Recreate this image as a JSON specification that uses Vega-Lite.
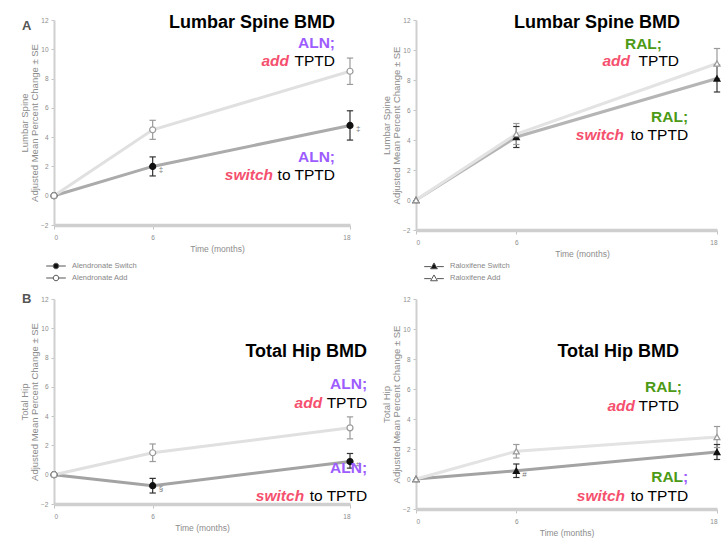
{
  "$schema": "https://vega.github.io/schema/vega-lite/v6.json",
  "autosize": {"type": "none"},
  "padding": {"left": 54, "top": 20, "right": 672, "bottom": 529},
  "background": "white",
  "config": {
    "font": "Liberation Sans",
    "view": {"stroke": null},
    "axis": {"grid": false, "domainColor": "#cfcfcf", "tickColor": "#c4c4c4", "labelColor": "#8c8c8c", "titleColor": "#8c8c8c", "labelFontSize": 6.5, "titleFontSize": 9.5, "titleFontWeight": "normal", "labelFont": "Liberation Sans", "titleFont": "Liberation Sans"},
    "axisX": {"domainWidth": 3.5, "tickSize": 4, "labelPadding": 5, "titlePadding": 4, "labelAngle": 0, "titleFontSize": 8.5},
    "axisY": {"domainWidth": 2, "tickSize": 3, "labelPadding": 3, "titlePadding": 1, "titleLineHeight": 10},
    "title": {"fontSize": 13, "fontWeight": "bold", "color": "#555555", "anchor": "start", "frame": "group"}
  },
  "resolve": {"scale": {"fill": "independent"}, "legend": {"fill": "independent"}},
  "datasets": {
    "alnLS": [
      {"group": "Alendronate Switch", "m": 0, "v": 0, "lo": 0, "hi": 0},
      {"group": "Alendronate Switch", "m": 6, "v": 2.0, "lo": 1.35, "hi": 2.65, "sig": "‡"},
      {"group": "Alendronate Switch", "m": 18, "v": 4.8, "lo": 3.8, "hi": 5.8, "sig": "‡"},
      {"group": "Alendronate Add", "m": 0, "v": 0, "lo": 0, "hi": 0},
      {"group": "Alendronate Add", "m": 6, "v": 4.5, "lo": 3.85, "hi": 5.15},
      {"group": "Alendronate Add", "m": 18, "v": 8.5, "lo": 7.6, "hi": 9.4}
    ],
    "ralLS": [
      {"group": "Raloxifene Switch", "m": 0, "v": 0, "lo": 0, "hi": 0},
      {"group": "Raloxifene Switch", "m": 6, "v": 4.2, "lo": 3.5, "hi": 4.9},
      {"group": "Raloxifene Switch", "m": 18, "v": 8.1, "lo": 7.2, "hi": 9.0},
      {"group": "Raloxifene Add", "m": 0, "v": 0, "lo": 0, "hi": 0},
      {"group": "Raloxifene Add", "m": 6, "v": 4.4, "lo": 3.7, "hi": 5.1},
      {"group": "Raloxifene Add", "m": 18, "v": 9.1, "lo": 8.1, "hi": 10.1}
    ],
    "alnTH": [
      {"group": "Alendronate Switch", "m": 0, "v": 0, "lo": 0, "hi": 0},
      {"group": "Alendronate Switch", "m": 6, "v": -0.75, "lo": -1.25, "hi": -0.25, "sig": "§"},
      {"group": "Alendronate Switch", "m": 18, "v": 0.9, "lo": 0.45, "hi": 1.45, "sig": "#"},
      {"group": "Alendronate Add", "m": 0, "v": 0, "lo": 0, "hi": 0},
      {"group": "Alendronate Add", "m": 6, "v": 1.5, "lo": 0.9, "hi": 2.1},
      {"group": "Alendronate Add", "m": 18, "v": 3.2, "lo": 2.45, "hi": 3.95}
    ],
    "ralTH": [
      {"group": "Raloxifene Switch", "m": 0, "v": 0, "lo": 0, "hi": 0},
      {"group": "Raloxifene Switch", "m": 6, "v": 0.55, "lo": 0.1, "hi": 1.0, "sig": "#"},
      {"group": "Raloxifene Switch", "m": 18, "v": 1.8, "lo": 1.3, "hi": 2.3},
      {"group": "Raloxifene Add", "m": 0, "v": 0, "lo": 0, "hi": 0},
      {"group": "Raloxifene Add", "m": 6, "v": 1.85, "lo": 1.4, "hi": 2.3},
      {"group": "Raloxifene Add", "m": 18, "v": 2.8, "lo": 2.1, "hi": 3.5}
    ],
    "txtA1": [
      {"part": "title", "m": 17.09, "v": 11.45, "txt": "Lumbar Spine BMD"},
      {"part": "drug", "m": 17.09, "v": 10.09, "txt": "ALN;"},
      {"part": "addv", "m": 17.09, "v": 8.86, "txt": "add"},
      {"part": "plain", "m": 17.09, "v": 8.86, "txt": "TPTD"},
      {"part": "drug", "m": 17.09, "v": 2.3, "txt": "ALN;"},
      {"part": "swv", "m": 17.09, "v": 1.07, "txt": "switch"},
      {"part": "plain", "m": 17.09, "v": 1.07, "txt": "to TPTD"}
    ],
    "txtA2": [
      {"part": "title", "m": 15.79, "v": 11.47, "txt": "Lumbar Spine BMD"},
      {"part": "drug", "m": 14.71, "v": 10.07, "txt": "RAL;"},
      {"part": "addv", "m": 15.73, "v": 8.93, "txt": "add"},
      {"part": "plain", "m": 15.73, "v": 8.93, "txt": "TPTD"},
      {"part": "drug", "m": 16.27, "v": 5.2, "txt": "RAL;"},
      {"part": "swv", "m": 16.27, "v": 4.0, "txt": "switch"},
      {"part": "plain", "m": 16.27, "v": 4.0, "txt": "to TPTD"}
    ],
    "txtB1": [
      {"part": "title", "m": 19.04, "v": 8.04, "txt": "Total Hip BMD"},
      {"part": "drug", "m": 19.04, "v": 5.85, "txt": "ALN;"},
      {"part": "addv", "m": 19.04, "v": 4.55, "txt": "add"},
      {"part": "plain", "m": 19.04, "v": 4.55, "txt": "TPTD"},
      {"part": "drug", "m": 19.04, "v": 0.11, "txt": "ALN;"},
      {"part": "swv", "m": 19.04, "v": -1.8, "txt": "switch"},
      {"part": "plain", "m": 19.04, "v": -1.8, "txt": "to TPTD"}
    ],
    "txtB2": [
      {"part": "title", "m": 15.73, "v": 8.13, "txt": "Total Hip BMD"},
      {"part": "drug", "m": 15.91, "v": 5.8, "txt": "RAL;"},
      {"part": "addv", "m": 15.73, "v": 4.53, "txt": "add"},
      {"part": "plain", "m": 15.73, "v": 4.53, "txt": "TPTD"},
      {"part": "drugG", "m": 16.27, "v": -0.2, "txt": "RAL"},
      {"part": "semi", "m": 16.27, "v": -0.2, "txt": ";"},
      {"part": "swv", "m": 16.27, "v": -1.47, "txt": "switch"},
      {"part": "plain", "m": 16.27, "v": -1.47, "txt": "to TPTD"}
    ]
  },
  "columns": 2,
  "bounds": "flush",
  "spacing": {"row": 69, "column": 66},
  "concat": [
    {
      "width": 296, "height": 205,
      "title": {"text": "A", "dx": -32, "dy": 20, "offset": -9, "baseline": "alphabetic"},
      "data": {"name": "alnLS"},
      "encoding": {
        "x": {"field": "m", "type": "quantitative", "scale": {"domain": [0, 18], "nice": false, "zero": false}, "axis": {"values": [0, 6, 18], "title": "Time (months)", "titleX": 163}},
        "y": {"field": "v", "type": "quantitative", "scale": {"domain": [-2, 12], "nice": false, "zero": false}, "axis": {"values": [-2, 0, 2, 4, 6, 8, 10, 12], "title": ["Lumbar Spine", "Adjusted Mean Percent Change ± SE"]}}
      },
      "layer": [
        {"mark": {"type": "line", "strokeWidth": 3}, "encoding": {"detail": {"field": "group"}, "color": {"condition": {"test": "datum.group == 'Alendronate Switch'", "value": "#ababab"}, "value": "#e0e0e0"}}},
        {"transform": [{"filter": "datum.m > 0"}], "mark": {"type": "rule", "strokeWidth": 1.2}, "encoding": {"y": {"field": "lo", "type": "quantitative"}, "y2": {"field": "hi"}, "color": {"condition": {"test": "datum.group == 'Alendronate Switch'", "value": "#333333"}, "value": "#9a9a9a"}}},
        {"transform": [{"filter": "datum.m > 0"}], "mark": {"type": "point", "shape": "stroke", "size": 40, "strokeWidth": 1.2, "opacity": 1}, "encoding": {"y": {"field": "lo", "type": "quantitative"}, "color": {"condition": {"test": "datum.group == 'Alendronate Switch'", "value": "#333333"}, "value": "#9a9a9a"}}},
        {"transform": [{"filter": "datum.m > 0"}], "mark": {"type": "point", "shape": "stroke", "size": 40, "strokeWidth": 1.2, "opacity": 1}, "encoding": {"y": {"field": "hi", "type": "quantitative"}, "color": {"condition": {"test": "datum.group == 'Alendronate Switch'", "value": "#333333"}, "value": "#9a9a9a"}}},
        {"mark": {"type": "point", "shape": "circle", "filled": true, "size": 36, "strokeWidth": 1.2, "opacity": 1}, "encoding": {
          "fill": {"field": "group", "type": "nominal", "scale": {"domain": ["Alendronate Switch", "Alendronate Add"], "range": ["#111111", "#ffffff"]}, "legend": {"title": null, "orient": "none", "legendX": -5, "legendY": 239, "direction": "vertical", "padding": 0, "rowPadding": 0, "symbolSize": 150, "symbolType": "M-1.6,0H-0.45M0.45,0H1.6M0.45,0A0.45,0.45,0,1,1,-0.45,0A0.45,0.45,0,1,1,0.45,0Z", "symbolStrokeColor": "#555555", "symbolStrokeWidth": 1, "labelFontSize": 7.5, "labelColor": "#888888", "labelOffset": 9}},
          "stroke": {"condition": {"test": "datum.group == 'Alendronate Switch'", "value": "#111111"}, "value": "#9a9a9a"}}},
        {"transform": [{"filter": "isValid(datum.sig)"}], "mark": {"type": "text", "align": "left", "baseline": "middle", "dx": 6, "dy": 4, "fontSize": 8, "color": "#777777"}, "encoding": {"text": {"field": "sig"}}},
        {"data": {"name": "txtA1"}, "transform": [{"filter": "datum.part == 'title'"}], "mark": {"type": "text", "align": "right", "baseline": "alphabetic", "fontSize": 18, "fontWeight": "bold", "color": "#000000"}, "encoding": {"text": {"field": "txt"}}},
        {"data": {"name": "txtA1"}, "transform": [{"filter": "datum.part == 'drug'"}], "mark": {"type": "text", "align": "right", "baseline": "alphabetic", "fontSize": 15.5, "fontWeight": "bold", "color": "#9d5cff"}, "encoding": {"text": {"field": "txt"}}},
        {"data": {"name": "txtA1"}, "transform": [{"filter": "datum.part == 'addv'"}], "mark": {"type": "text", "align": "right", "baseline": "alphabetic", "fontSize": 15.5, "fontWeight": "bold", "fontStyle": "italic", "color": "#f5506e", "dx": -46}, "encoding": {"text": {"field": "txt"}}},
        {"data": {"name": "txtA1"}, "transform": [{"filter": "datum.part == 'swv'"}], "mark": {"type": "text", "align": "right", "baseline": "alphabetic", "fontSize": 15.5, "fontWeight": "bold", "fontStyle": "italic", "color": "#f5506e", "dx": -62}, "encoding": {"text": {"field": "txt"}}},
        {"data": {"name": "txtA1"}, "transform": [{"filter": "datum.part == 'plain'"}], "mark": {"type": "text", "align": "right", "baseline": "alphabetic", "fontSize": 15.5, "color": "#000000"}, "encoding": {"text": {"field": "txt"}}}
      ]
    },
    {
      "width": 301, "height": 210,
      "data": {"name": "ralLS"},
      "encoding": {
        "x": {"field": "m", "type": "quantitative", "scale": {"domain": [0, 18], "nice": false, "zero": false}, "axis": {"values": [0, 6, 18], "title": "Time (months)", "titleX": 166}},
        "y": {"field": "v", "type": "quantitative", "scale": {"domain": [-2, 12], "nice": false, "zero": false}, "axis": {"values": [-2, 0, 2, 4, 6, 8, 10, 12], "title": ["Lumbar Spine", "Adjusted Mean Percent Change ± SE"]}}
      },
      "layer": [
        {"mark": {"type": "line", "strokeWidth": 3}, "encoding": {"detail": {"field": "group"}, "color": {"condition": {"test": "datum.group == 'Raloxifene Switch'", "value": "#b5b5b5"}, "value": "#e3e3e3"}}},
        {"transform": [{"filter": "datum.m > 0"}], "mark": {"type": "rule", "strokeWidth": 1.2}, "encoding": {"y": {"field": "lo", "type": "quantitative"}, "y2": {"field": "hi"}, "color": {"condition": {"test": "datum.group == 'Raloxifene Switch'", "value": "#333333"}, "value": "#9a9a9a"}}},
        {"transform": [{"filter": "datum.m > 0"}], "mark": {"type": "point", "shape": "stroke", "size": 40, "strokeWidth": 1.2, "opacity": 1}, "encoding": {"y": {"field": "lo", "type": "quantitative"}, "color": {"condition": {"test": "datum.group == 'Raloxifene Switch'", "value": "#333333"}, "value": "#9a9a9a"}}},
        {"transform": [{"filter": "datum.m > 0"}], "mark": {"type": "point", "shape": "stroke", "size": 40, "strokeWidth": 1.2, "opacity": 1}, "encoding": {"y": {"field": "hi", "type": "quantitative"}, "color": {"condition": {"test": "datum.group == 'Raloxifene Switch'", "value": "#333333"}, "value": "#9a9a9a"}}},
        {"mark": {"type": "point", "shape": "triangle-up", "filled": true, "size": 36, "strokeWidth": 1.2, "opacity": 1}, "encoding": {
          "fill": {"field": "group", "type": "nominal", "scale": {"domain": ["Raloxifene Switch", "Raloxifene Add"], "range": ["#111111", "#ffffff"]}, "legend": {"title": null, "orient": "none", "legendX": 11, "legendY": 239, "direction": "vertical", "padding": 0, "rowPadding": 0, "symbolSize": 150, "symbolType": "M-1.6,0.1H-0.5M0.5,0.1H1.6M0,-0.5L0.55,0.45L-0.55,0.45Z", "symbolStrokeColor": "#555555", "symbolStrokeWidth": 1, "labelFontSize": 7.5, "labelColor": "#888888", "labelOffset": 9}},
          "stroke": {"condition": {"test": "datum.group == 'Raloxifene Switch'", "value": "#111111"}, "value": "#9a9a9a"}}},
        {"data": {"name": "txtA2"}, "transform": [{"filter": "datum.part == 'title'"}], "mark": {"type": "text", "align": "right", "baseline": "alphabetic", "fontSize": 18, "fontWeight": "bold", "color": "#000000"}, "encoding": {"text": {"field": "txt"}}},
        {"data": {"name": "txtA2"}, "transform": [{"filter": "datum.part == 'drug'"}], "mark": {"type": "text", "align": "right", "baseline": "alphabetic", "fontSize": 15.5, "fontWeight": "bold", "color": "#4c9a16"}, "encoding": {"text": {"field": "txt"}}},
        {"data": {"name": "txtA2"}, "transform": [{"filter": "datum.part == 'addv'"}], "mark": {"type": "text", "align": "right", "baseline": "alphabetic", "fontSize": 15.5, "fontWeight": "bold", "fontStyle": "italic", "color": "#f5506e", "dx": -49}, "encoding": {"text": {"field": "txt"}}},
        {"data": {"name": "txtA2"}, "transform": [{"filter": "datum.part == 'swv'"}], "mark": {"type": "text", "align": "right", "baseline": "alphabetic", "fontSize": 15.5, "fontWeight": "bold", "fontStyle": "italic", "color": "#f5506e", "dx": -64}, "encoding": {"text": {"field": "txt"}}},
        {"data": {"name": "txtA2"}, "transform": [{"filter": "datum.part == 'plain'"}], "mark": {"type": "text", "align": "right", "baseline": "alphabetic", "fontSize": 15.5, "color": "#000000"}, "encoding": {"text": {"field": "txt"}}}
      ]
    },
    {
      "width": 296, "height": 205,
      "title": {"text": "B", "dx": -32, "dy": 12, "offset": -8, "baseline": "alphabetic"},
      "data": {"name": "alnTH"},
      "encoding": {
        "x": {"field": "m", "type": "quantitative", "scale": {"domain": [0, 18], "nice": false, "zero": false}, "axis": {"values": [0, 6, 18], "title": "Time (months)"}},
        "y": {"field": "v", "type": "quantitative", "scale": {"domain": [-2, 12], "nice": false, "zero": false}, "axis": {"values": [-2, 0, 2, 4, 6, 8, 10, 12], "title": ["Total Hip", "Adjusted Mean Percent Change ± SE"]}}
      },
      "layer": [
        {"mark": {"type": "line", "strokeWidth": 3}, "encoding": {"detail": {"field": "group"}, "color": {"condition": {"test": "datum.group == 'Alendronate Switch'", "value": "#a3a3a3"}, "value": "#e0e0e0"}}},
        {"transform": [{"filter": "datum.m > 0"}], "mark": {"type": "rule", "strokeWidth": 1.2}, "encoding": {"y": {"field": "lo", "type": "quantitative"}, "y2": {"field": "hi"}, "color": {"condition": {"test": "datum.group == 'Alendronate Switch'", "value": "#333333"}, "value": "#9a9a9a"}}},
        {"transform": [{"filter": "datum.m > 0"}], "mark": {"type": "point", "shape": "stroke", "size": 40, "strokeWidth": 1.2, "opacity": 1}, "encoding": {"y": {"field": "lo", "type": "quantitative"}, "color": {"condition": {"test": "datum.group == 'Alendronate Switch'", "value": "#333333"}, "value": "#9a9a9a"}}},
        {"transform": [{"filter": "datum.m > 0"}], "mark": {"type": "point", "shape": "stroke", "size": 40, "strokeWidth": 1.2, "opacity": 1}, "encoding": {"y": {"field": "hi", "type": "quantitative"}, "color": {"condition": {"test": "datum.group == 'Alendronate Switch'", "value": "#333333"}, "value": "#9a9a9a"}}},
        {"mark": {"type": "point", "shape": "circle", "filled": true, "size": 36, "strokeWidth": 1.2, "opacity": 1}, "encoding": {
          "fill": {"condition": {"test": "datum.group == 'Alendronate Switch'", "value": "#111111"}, "value": "#ffffff"},
          "stroke": {"condition": {"test": "datum.group == 'Alendronate Switch'", "value": "#111111"}, "value": "#9a9a9a"}}},
        {"transform": [{"filter": "isValid(datum.sig)"}], "mark": {"type": "text", "align": "left", "baseline": "middle", "dx": 6, "dy": 3, "fontSize": 8, "color": "#777777"}, "encoding": {"text": {"field": "sig"}}},
        {"data": {"name": "txtB1"}, "transform": [{"filter": "datum.part == 'title'"}], "mark": {"type": "text", "align": "right", "baseline": "alphabetic", "fontSize": 18, "fontWeight": "bold", "color": "#000000"}, "encoding": {"text": {"field": "txt"}}},
        {"data": {"name": "txtB1"}, "transform": [{"filter": "datum.part == 'drug'"}], "mark": {"type": "text", "align": "right", "baseline": "alphabetic", "fontSize": 15.5, "fontWeight": "bold", "color": "#9d5cff"}, "encoding": {"text": {"field": "txt"}}},
        {"data": {"name": "txtB1"}, "transform": [{"filter": "datum.part == 'addv'"}], "mark": {"type": "text", "align": "right", "baseline": "alphabetic", "fontSize": 15.5, "fontWeight": "bold", "fontStyle": "italic", "color": "#f5506e", "dx": -45}, "encoding": {"text": {"field": "txt"}}},
        {"data": {"name": "txtB1"}, "transform": [{"filter": "datum.part == 'swv'"}], "mark": {"type": "text", "align": "right", "baseline": "alphabetic", "fontSize": 15.5, "fontWeight": "bold", "fontStyle": "italic", "color": "#f5506e", "dx": -63}, "encoding": {"text": {"field": "txt"}}},
        {"data": {"name": "txtB1"}, "transform": [{"filter": "datum.part == 'plain'"}], "mark": {"type": "text", "align": "right", "baseline": "alphabetic", "fontSize": 15.5, "color": "#000000"}, "encoding": {"text": {"field": "txt"}}}
      ]
    },
    {
      "width": 301, "height": 210,
      "data": {"name": "ralTH"},
      "encoding": {
        "x": {"field": "m", "type": "quantitative", "scale": {"domain": [0, 18], "nice": false, "zero": false}, "axis": {"values": [0, 6, 18], "title": "Time (months)"}},
        "y": {"field": "v", "type": "quantitative", "scale": {"domain": [-2, 12], "nice": false, "zero": false}, "axis": {"values": [-2, 0, 2, 4, 6, 8, 10, 12], "title": ["Total Hip", "Adjusted Mean Percent Change ± SE"]}}
      },
      "layer": [
        {"mark": {"type": "line", "strokeWidth": 3}, "encoding": {"detail": {"field": "group"}, "color": {"condition": {"test": "datum.group == 'Raloxifene Switch'", "value": "#a3a3a3"}, "value": "#e3e3e3"}}},
        {"transform": [{"filter": "datum.m > 0"}], "mark": {"type": "rule", "strokeWidth": 1.2}, "encoding": {"y": {"field": "lo", "type": "quantitative"}, "y2": {"field": "hi"}, "color": {"condition": {"test": "datum.group == 'Raloxifene Switch'", "value": "#333333"}, "value": "#9a9a9a"}}},
        {"transform": [{"filter": "datum.m > 0"}], "mark": {"type": "point", "shape": "stroke", "size": 40, "strokeWidth": 1.2, "opacity": 1}, "encoding": {"y": {"field": "lo", "type": "quantitative"}, "color": {"condition": {"test": "datum.group == 'Raloxifene Switch'", "value": "#333333"}, "value": "#9a9a9a"}}},
        {"transform": [{"filter": "datum.m > 0"}], "mark": {"type": "point", "shape": "stroke", "size": 40, "strokeWidth": 1.2, "opacity": 1}, "encoding": {"y": {"field": "hi", "type": "quantitative"}, "color": {"condition": {"test": "datum.group == 'Raloxifene Switch'", "value": "#333333"}, "value": "#9a9a9a"}}},
        {"mark": {"type": "point", "shape": "triangle-up", "filled": true, "size": 36, "strokeWidth": 1.2, "opacity": 1}, "encoding": {
          "fill": {"condition": {"test": "datum.group == 'Raloxifene Switch'", "value": "#111111"}, "value": "#ffffff"},
          "stroke": {"condition": {"test": "datum.group == 'Raloxifene Switch'", "value": "#111111"}, "value": "#9a9a9a"}}},
        {"transform": [{"filter": "isValid(datum.sig)"}], "mark": {"type": "text", "align": "left", "baseline": "middle", "dx": 6, "dy": 4, "fontSize": 8, "color": "#777777"}, "encoding": {"text": {"field": "sig"}}},
        {"data": {"name": "txtB2"}, "transform": [{"filter": "datum.part == 'title'"}], "mark": {"type": "text", "align": "right", "baseline": "alphabetic", "fontSize": 18, "fontWeight": "bold", "color": "#000000"}, "encoding": {"text": {"field": "txt"}}},
        {"data": {"name": "txtB2"}, "transform": [{"filter": "datum.part == 'drug'"}], "mark": {"type": "text", "align": "right", "baseline": "alphabetic", "fontSize": 15.5, "fontWeight": "bold", "color": "#4c9a16"}, "encoding": {"text": {"field": "txt"}}},
        {"data": {"name": "txtB2"}, "transform": [{"filter": "datum.part == 'drugG'"}], "mark": {"type": "text", "align": "right", "baseline": "alphabetic", "fontSize": 15.5, "fontWeight": "bold", "color": "#4c9a16", "dx": -5}, "encoding": {"text": {"field": "txt"}}},
        {"data": {"name": "txtB2"}, "transform": [{"filter": "datum.part == 'semi'"}], "mark": {"type": "text", "align": "right", "baseline": "alphabetic", "fontSize": 15.5, "fontWeight": "bold", "color": "#9d5cff"}, "encoding": {"text": {"field": "txt"}}},
        {"data": {"name": "txtB2"}, "transform": [{"filter": "datum.part == 'addv'"}], "mark": {"type": "text", "align": "right", "baseline": "alphabetic", "fontSize": 15.5, "fontWeight": "bold", "fontStyle": "italic", "color": "#f5506e", "dx": -44}, "encoding": {"text": {"field": "txt"}}},
        {"data": {"name": "txtB2"}, "transform": [{"filter": "datum.part == 'swv'"}], "mark": {"type": "text", "align": "right", "baseline": "alphabetic", "fontSize": 15.5, "fontWeight": "bold", "fontStyle": "italic", "color": "#f5506e", "dx": -63}, "encoding": {"text": {"field": "txt"}}},
        {"data": {"name": "txtB2"}, "transform": [{"filter": "datum.part == 'plain'"}], "mark": {"type": "text", "align": "right", "baseline": "alphabetic", "fontSize": 15.5, "color": "#000000"}, "encoding": {"text": {"field": "txt"}}}
      ]
    }
  ]
}
